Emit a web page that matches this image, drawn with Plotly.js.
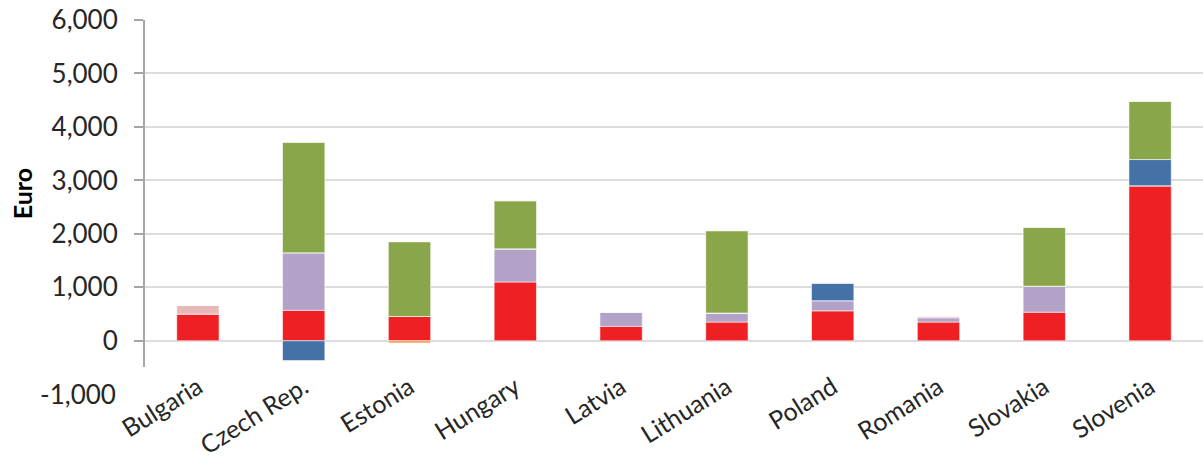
<!DOCTYPE html>
<html>
<head>
<meta charset="utf-8">
<script src="https://cdn.plot.ly/plotly-3.0.1.min.js"></script>
<style>html,body{margin:0;padding:0;background:#fff;}#chart{width:1203px;height:464px;}</style>
</head>
<body>
<div id="chart"></div>
<script>
const countries = ["Bulgaria","Czech Rep.","Estonia","Hungary","Latvia","Lithuania","Poland","Romania","Slovakia","Slovenia"];
const redSeries    = [500, 570, 455, 1100, 270, 350, 560, 350, 535, 2900];
const purpleSeries = [0, 1075, 0, 620, 270, 170, 190, 80, 487, 0];
const pinkSeries   = [160, 0, 0, 0, 0, 0, 0, 35, 0, 0];
const blueSeries   = [0, -370, 0, 0, 0, 0, 330, 0, 0, 490];
const greenSeries  = [0, 2070, 1395, 900, 0, 1540, 0, 0, 1100, 1090];
const orangeSeries = [0, 0, -40, 0, 0, 0, 0, 0, 0, 0];
const yTickVals = [0, 1000, 2000, 3000, 4000, 5000, 6000];
const yTickText = ["0", "1,000", "2,000", "3,000", "4,000", "5,000", "6,000"];

const edge = {color: 'rgba(255,255,255,0.55)', width: 1};
function tr(y, color, name) {
  return {type: 'bar', x: countries, y: y, name: name, marker: {color: color, line: edge}, hoverinfo: 'x+y'};
}
const data = [
  tr(redSeries, '#EE2024', 'red'),
  tr(purpleSeries, '#B3A2C7', 'purple'),
  tr(pinkSeries, '#E6B9B8', 'pink'),
  tr(blueSeries, '#4472A7', 'blue'),
  tr(greenSeries, '#8AA64B', 'green'),
  tr(orangeSeries, '#F79646', 'orange')
];
const font = {family: 'Lato, "Open Sans", sans-serif', color: '#262626'};
const layout = {
  width: 1203, height: 464,
  margin: {l: 145, r: 0, t: 20, b: 97},
  barmode: 'relative',
  bargap: 0.6,
  showlegend: false,
  paper_bgcolor: '#fff', plot_bgcolor: '#fff',
  font: font,
  xaxis: {
    type: 'category',
    tickangle: -32,
    tickfont: {size: 25, family: font.family, color: '#262626'},
    showline: false, showgrid: false, zeroline: false, ticks: '',
    ticklabelstandoff: 0
  },
  yaxis: {
    range: [-490, 6000],
    tickvals: yTickVals, ticktext: yTickText,
    tickfont: {size: 26, family: font.family, color: '#262626'},
    showline: true, linecolor: '#A6A6A6', linewidth: 2,
    ticks: 'outside', ticklen: 9, tickcolor: '#A6A6A6', tickwidth: 2,
    ticklabelstandoff: 11,
    showgrid: true, gridcolor: '#DCDCDC', gridwidth: 2,
    zeroline: false,
    title: {text: '<b>Euro</b>', font: {size: 25, family: font.family, color: '#000'}, standoff: 12}
  },
  annotations: [{
    xref: 'paper', yref: 'paper', x: 0, y: -(394 - 367) / 347,
    xanchor: 'right', yanchor: 'middle', xshift: -27,
    text: '-1,000', showarrow: false,
    font: {size: 26, family: font.family, color: '#262626'}
  }]
};
Plotly.newPlot('chart', data, layout, {displayModeBar: false, staticPlot: true});
</script>
</body>
</html>
